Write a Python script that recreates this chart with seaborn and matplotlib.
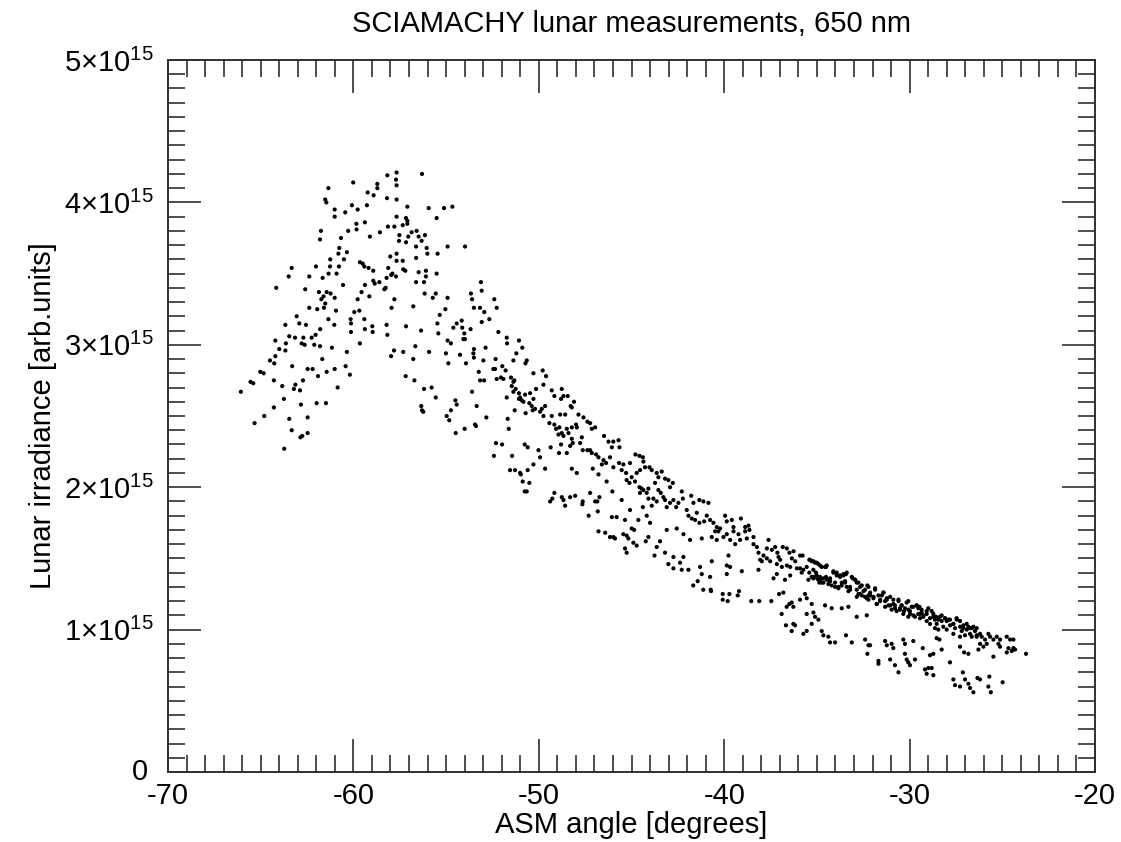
import numpy as np
import pandas as pd
import matplotlib
matplotlib.use("Agg")
import matplotlib.pyplot as plt
import matplotlib.transforms as mtrans
import seaborn as sns
from matplotlib.ticker import MultipleLocator, FixedLocator

# ---------------- data (ASM angle in degrees, irradiance in units of 1e15) ----------------
peak_angle = [
    -57.67, -57.70, -57.67, -58.17, -56.30, -58.71, -58.71, -60.01, -61.35, -59.23,
    -58.91, -58.19, -57.67, -61.52, -61.46, -60.08, -59.27, -59.77, -61.01, -61.01,
    -60.44, -57.09, -55.94, -55.11, -54.66, -55.51, -57.67, -57.16, -57.09, -57.09,
    -59.84, -59.83, -59.38, -58.14, -57.79, -57.34, -61.75, -61.80, -60.28, -58.57,
    -59.11, -60.67, -56.86, -56.59, -56.48, -56.32, -56.14, -57.04, -57.16, -57.52,
    -57.54, -54.92, -53.98, -60.76, -60.81, -60.35, -61.25, -60.51, -56.62, -56.62,
    -56.05, -56.01, -55.46, -57.67, -58.01, -57.67, -57.34, -63.33, -63.49, -62.02,
    -61.26, -60.78, -60.91, -61.34, -61.66, -62.38, -59.65, -59.50, -59.41, -59.18,
    -58.93, -58.12, -57.90, -57.96, -57.70, -57.31, -57.20, -56.48, -56.09, -56.09,
    -55.51, -56.62, -56.19, -58.93, -58.85, -58.60, -58.21, -58.33, -58.26, -59.38,
    -60.56, -64.16, -62.60, -61.86, -61.44, -61.23, -61.01, -61.61, -61.73, -61.52,
    -61.59, -61.95, -62.38, -60.94, -59.77, -59.56, -59.14, -57.79, -57.94, -56.77,
    -56.16, -55.72, -55.56, -54.92, -55.04, -55.34, -55.47, -55.42, -53.12, -53.08,
    -53.66, -53.60, -53.50, -53.17, -52.94, -53.08, -52.67, -52.40, -52.27, -52.18,
    -51.73, -51.71, -51.07, -51.21, -51.37, -59.95, -59.68, -60.15, -60.13, -60.13,
    -59.41, -59.38, -58.98, -58.96, -58.21, -58.17, -59.65, -61.03, -61.35, -63.06,
    -62.92, -62.56, -63.67, -61.79, -62.04, -62.25, -63.46, -63.15, -62.70, -62.79,
    -62.63, -63.64, -63.67, -64.21, -64.00, -64.21, -64.50, -64.27, -62.11, -61.80,
    -61.16, -60.35, -60.42, -60.19, -57.81, -57.97, -57.31, -56.77, -56.66, -57.16,
    -56.35, -55.92, -54.61, -54.43, -54.16, -54.13, -54.02, -53.98, -54.07, -53.68,
    -54.92, -54.74, -55.01, -54.88, -54.25, -53.93, -53.50, -53.53, -53.50, -52.99,
    -52.87, -52.33, -53.24, -53.17, -52.95, -52.45, -52.36, -52.27, -52.04, -51.91,
    -51.97, -51.79, -51.50, -51.37, -51.46, -51.25, -51.37, -51.73, -51.32, -51.07,
    -51.07, -51.68, -51.30, -63.30, -62.47, -62.20, -61.68, -61.44, -61.01, -61.91,
    -62.72, -64.29, -63.84, -63.13, -63.21, -62.88, -63.75, -64.29, -64.81, -65.33,
    -65.02, -64.84, -65.55, -65.40, -66.07, -63.46, -63.33, -62.83, -62.47, -62.86,
    -62.76, -62.47, -61.98, -61.48, -60.85, -63.73, -57.18, -56.71, -56.19, -55.78,
    -55.56, -56.34, -56.30, -56.23, -54.50, -54.43, -54.74, -54.97, -54.83, -54.48,
    -54.00, -53.44, -53.39, -53.60, -53.35, -52.83, -52.31, -51.98, -52.42, -51.44,
    -51.62,
]
peak_irr = [
    4.21, 4.16, 4.12, 4.19, 4.20, 4.13, 4.10, 4.14, 4.10, 4.07,
    4.05, 4.03, 4.02, 4.02, 4.00, 3.98, 3.98, 3.95, 3.95, 3.90,
    3.93, 3.97, 3.96, 3.96, 3.97, 3.89, 3.90, 3.89, 3.87, 3.85,
    3.85, 3.81, 3.86, 3.83, 3.83, 3.84, 3.80, 3.74, 3.80, 3.79,
    3.76, 3.75, 3.79, 3.80, 3.76, 3.73, 3.77, 3.76, 3.72, 3.77,
    3.73, 3.69, 3.69, 3.68, 3.64, 3.65, 3.60, 3.60, 3.69, 3.61,
    3.68, 3.64, 3.64, 3.64, 3.62, 3.59, 3.59, 3.54, 3.48, 3.55,
    3.55, 3.55, 3.50, 3.50, 3.47, 3.48, 3.58, 3.57, 3.55, 3.54,
    3.52, 3.54, 3.50, 3.49, 3.48, 3.53, 3.52, 3.51, 3.52, 3.48,
    3.50, 3.44, 3.44, 3.45, 3.43, 3.44, 3.47, 3.39, 3.40, 3.42,
    3.42, 3.40, 3.39, 3.37, 3.37, 3.36, 3.33, 3.34, 3.32, 3.29,
    3.26, 3.25, 3.26, 3.24, 3.32, 3.37, 3.34, 3.32, 3.26, 3.27,
    3.36, 3.33, 3.36, 3.33, 3.25, 3.21, 3.15, 3.08, 3.44, 3.38,
    3.36, 3.32, 3.26, 3.26, 3.23, 3.16, 3.18, 3.32, 3.26, 3.09,
    3.05, 3.01, 3.03, 2.94, 2.89, 3.23, 3.24, 3.18, 3.15, 3.09,
    3.18, 3.11, 3.13, 3.09, 3.14, 3.07, 3.01, 3.14, 3.18, 3.20,
    3.15, 3.14, 3.14, 3.11, 3.07, 3.05, 3.06, 3.05, 3.05, 3.01,
    3.00, 3.01, 2.96, 3.03, 2.97, 2.92, 2.89, 2.87, 3.00, 2.99,
    2.98, 2.95, 2.85, 2.79, 2.96, 2.92, 2.95, 2.90, 2.99, 3.13,
    3.10, 2.95, 3.12, 3.15, 3.17, 3.12, 3.08, 3.04, 3.04, 3.11,
    3.03, 3.01, 2.94, 2.87, 2.93, 2.87, 2.97, 2.94, 2.91, 2.89,
    2.98, 2.90, 2.81, 2.75, 2.75, 2.83, 2.83, 2.76, 2.77, 2.76,
    2.85, 2.82, 2.77, 2.74, 2.71, 2.69, 2.67, 2.63, 2.75, 2.66,
    2.62, 2.48, 2.54, 2.85, 2.83, 2.83, 2.90, 2.81, 2.83, 2.78,
    2.75, 2.75, 2.71, 2.72, 2.69, 2.68, 2.62, 2.56, 2.50, 2.45,
    2.81, 2.80, 2.74, 2.73, 2.67, 2.48, 2.40, 2.58, 2.49, 2.35,
    2.36, 2.38, 2.59, 2.59, 2.70, 2.27, 2.78, 2.75, 2.69, 2.70,
    2.63, 2.57, 2.54, 2.53, 2.61, 2.58, 2.54, 2.50, 2.47, 2.38,
    2.41, 2.44, 2.43, 2.67, 2.57, 2.49, 2.31, 2.30, 2.22, 2.22,
    2.41,
]

mid_angle = [
    -50.89, -50.65, -50.72, -51.01, -50.92, -50.83, -50.74, -50.47, -50.29, -50.15,
    -50.29, -49.79, -49.61, -49.75, -50.51, -50.38, -50.20, -50.33, -50.71, -49.93,
    -49.75, -49.66, -49.84, -49.30, -49.16, -48.76, -48.67, -48.80, -48.44, -48.28,
    -48.10, -48.22, -50.76, -50.60, -50.02, -49.93, -50.29, -51.55, -51.28, -51.01,
    -50.97, -50.87, -50.51, -50.60, -50.76, -50.65, -49.66, -49.36, -49.16, -49.27,
    -49.39, -48.76, -48.67, -48.31, -48.04, -48.58, -47.63, -47.65, -46.84, -46.82,
    -47.31, -49.30, -49.43, -49.16, -49.07, -48.85, -48.58, -48.89, -48.76, -48.94,
    -48.67, -48.49, -48.40, -48.22, -48.17, -48.31, -48.22, -47.99, -47.95, -47.86,
    -47.59, -47.38, -47.23, -46.96, -47.14, -47.68, -47.77, -47.38, -47.23, -47.14,
    -46.91, -46.78, -46.51, -46.37, -46.60, -46.16, -45.98, -46.48, -46.24, -45.98,
    -45.70, -45.65, -46.06, -47.09, -48.22, -48.91, -48.80, -48.49, -45.67, -45.44,
    -45.53, -45.29, -45.08, -44.79, -44.57, -44.39, -44.36, -44.27, -44.54, -44.72,
    -44.99, -45.26, -45.11, -44.81, -44.57, -44.45, -44.36, -44.09, -44.18, -44.54,
    -44.03, -43.91, -43.64, -43.55, -43.37, -43.19, -43.01, -42.77, -42.92, -43.73,
    -43.55, -43.42, -43.28, -43.19, -43.64, -43.82, -44.09, -43.91, -43.10, -42.92,
    -42.74, -42.59, -42.47, -42.23, -42.29, -41.78, -41.66, -42.02, -41.93, -41.75,
    -41.48, -41.34, -41.12, -40.85, -40.94, -40.76, -41.08, -41.34, -41.57, -40.58,
    -40.40, -40.22, -40.49, -40.31, -39.95, -39.86, -39.59, -39.50, -39.10, -38.87,
    -38.69, -38.64, -38.87, -39.23, -39.50, -39.86, -40.04, -39.68, -39.41, -39.14,
    -38.78, -38.42, -38.42, -38.24, -38.15, -38.06, -37.97, -37.61, -37.70, -37.43,
    -37.25, -37.13, -37.07, -36.98, -36.84, -36.62, -36.48, -36.35, -36.26, -36.17,
    -36.08, -36.44, -36.62, -36.89, -37.16, -37.52, -37.70, -37.88, -40.40, -40.67,
    -41.21, -41.84, -42.20, -42.56, -43.10, -43.46, -44.09, -43.64, -43.19, -42.74,
    -42.20, -43.01, -42.74, -42.38, -42.29, -41.93, -41.30, -41.21, -40.76, -40.67,
    -39.77, -39.86, -39.68, -39.86, -39.05, -38.15, -37.34, -37.16, -36.44, -45.80,
    -45.98, -45.89, -45.44, -45.26, -45.17, -45.35, -45.26, -44.99, -44.86, -44.90,
    -44.72, -44.63, -44.18, -44.39, -45.08, -45.35, -46.06, -46.78, -46.42, -46.16,
    -46.73, -47.23, -46.96, -47.63, -47.95, -46.78, -46.03, -45.53, -46.34, -43.76,
    -44.23, -44.00,
    -41.67, -41.43, -41.13, -40.73, -40.71, -40.08, -40.08, -39.81, -39.72, -39.20,
    -39.27, -38.54, -38.11, -37.46, -37.04,
]
mid_irr = [
    2.98, 2.89, 2.87, 2.63, 2.61, 2.60, 2.65, 2.66, 2.62, 2.69,
    2.80, 2.82, 2.78, 2.72, 2.59, 2.57, 2.55, 2.54, 2.52, 2.53,
    2.50, 2.57, 2.55, 2.68, 2.64, 2.69, 2.64, 2.62, 2.64, 2.57,
    2.60, 2.56, 2.30, 2.28, 2.26, 2.21, 2.16, 2.12, 2.12, 2.10,
    2.09, 2.04, 2.03, 2.12, 1.97, 1.97, 2.13, 2.28, 1.96, 1.92,
    1.90, 1.93, 1.91, 1.93, 1.94, 1.87, 1.90, 1.88, 1.90, 1.83,
    1.80, 2.50, 2.45, 2.44, 2.41, 2.51, 2.51, 2.42, 2.38, 2.37,
    2.36, 2.41, 2.38, 2.34, 2.31, 2.29, 2.42, 2.44, 2.42, 2.51,
    2.49, 2.46, 2.45, 2.42, 2.41, 2.35, 2.31, 2.26, 2.26, 2.24,
    2.23, 2.21, 2.19, 2.17, 2.16, 2.21, 2.14, 2.36, 2.32, 2.32,
    2.33, 2.28, 2.28, 2.13, 2.13, 2.24, 2.30, 2.24, 2.17, 2.16,
    2.12, 2.10, 2.17, 2.23, 2.22, 2.21, 2.18, 2.14, 2.12, 2.10,
    2.07, 2.05, 2.03, 2.04, 2.00, 1.99, 1.98, 1.99, 1.96, 1.96,
    2.14, 2.12, 2.10, 2.07, 2.11, 2.06, 2.05, 2.03, 2.00, 2.03,
    1.98, 1.96, 1.93, 1.91, 1.90, 1.92, 1.92, 1.87, 1.86, 1.89,
    1.91, 1.86, 1.89, 1.92, 1.97, 1.94, 1.89, 1.84, 1.80, 1.78,
    1.82, 1.91, 1.90, 1.89, 1.80, 1.77, 1.76, 1.75, 1.77, 1.75,
    1.72, 1.71, 1.69, 1.69, 1.80, 1.76, 1.77, 1.72, 1.78, 1.72,
    1.73, 1.70, 1.69, 1.67, 1.69, 1.67, 1.65, 1.63, 1.60, 1.63,
    1.64, 1.65, 1.60, 1.58, 1.54, 1.49, 1.48, 1.63, 1.57, 1.56,
    1.58, 1.54, 1.51, 1.49, 1.58, 1.57, 1.54, 1.50, 1.55, 1.48,
    1.43, 1.44, 1.45, 1.44, 1.46, 1.48, 1.50, 1.52, 1.63, 1.65,
    1.64, 1.63, 1.67, 1.71, 1.70, 1.62, 1.65, 1.58, 1.54, 1.51,
    1.51, 1.46, 1.43, 1.47, 1.42, 1.42, 1.44, 1.39, 1.37, 1.48,
    1.52, 1.45, 1.44, 1.39, 1.41, 1.42, 1.36, 1.39, 1.38, 1.79,
    1.65, 1.64, 1.67, 1.66, 1.64, 1.57, 1.54, 1.71, 1.70, 1.61,
    1.59, 1.77, 1.80, 1.86, 1.84, 1.77, 1.79, 1.69, 1.68, 1.65,
    1.93, 1.96, 1.90, 2.26, 2.10, 2.09, 1.97, 1.91, 2.04, 1.52,
    1.62, 1.75,
    1.31, 1.34, 1.28, 1.28, 1.27, 1.25, 1.21, 1.20, 1.25, 1.27,
    1.24, 1.20, 1.20, 1.20, 1.25,
]

band_angle = [
    -35.91, -35.77, -35.91, -35.73, -35.82, -35.55, -35.37, -35.19, -35.01, -34.83,
    -34.56, -34.47, -35.41, -35.28, -35.46, -35.19, -35.01, -34.83, -34.92, -34.74,
    -34.65, -34.47, -34.29, -34.38, -34.11, -33.93, -33.75, -33.57, -33.43, -34.02,
    -33.84, -33.66, -33.48, -33.39, -33.21, -33.07, -32.94, -32.85, -32.67, -32.76,
    -32.58, -32.40, -32.22, -32.22, -32.31, -32.13, -31.95, -31.86, -31.68, -31.59,
    -31.77, -31.41, -31.23, -31.32, -31.05, -31.14, -30.88, -30.79, -30.97, -30.60,
    -30.52, -30.70, -30.43, -30.30, -30.16, -30.07, -29.98, -29.80, -29.62, -29.53,
    -29.44, -29.35, -29.26, -29.08, -28.99, -28.81, -28.72, -28.63, -28.54, -28.36,
    -28.27, -28.18, -28.09, -27.91, -27.82, -27.64, -27.55, -27.46, -27.28, -27.19,
    -27.10, -26.92, -26.83, -26.74, -26.65, -26.47, -26.38, -26.20, -26.11, -25.93,
    -25.75, -25.66, -25.48, -25.30, -25.21, -25.12, -24.76, -24.58, -24.67, -24.49,
    -24.31, -24.40, -23.72, -25.84, -26.20, -26.65, -27.01, -27.28, -27.64, -28.00,
    -28.45, -28.63, -28.90, -29.08, -29.44, -29.80, -30.07, -30.34,
]
band_irr = [
    1.52, 1.52, 1.43, 1.42, 1.40, 1.44, 1.49, 1.48, 1.47, 1.45,
    1.44, 1.45, 1.40, 1.37, 1.35, 1.36, 1.38, 1.37, 1.35, 1.33,
    1.36, 1.35, 1.36, 1.32, 1.41, 1.40, 1.37, 1.38, 1.39, 1.33,
    1.30, 1.31, 1.34, 1.30, 1.28, 1.36, 1.35, 1.33, 1.30, 1.25,
    1.24, 1.28, 1.30, 1.24, 1.22, 1.26, 1.23, 1.29, 1.24, 1.21,
    1.18, 1.26, 1.22, 1.20, 1.23, 1.17, 1.21, 1.17, 1.14, 1.20,
    1.15, 1.13, 1.17, 1.13, 1.19, 1.14, 1.11, 1.16, 1.17, 1.15,
    1.11, 1.12, 1.09, 1.11, 1.15, 1.13, 1.09, 1.07, 1.04, 1.09,
    1.06, 1.02, 1.08, 1.07, 1.03, 1.04, 1.01, 1.07, 1.02, 0.99,
    1.01, 1.00, 1.02, 0.97, 1.01, 0.99, 0.96, 0.97, 0.95, 0.93,
    0.97, 0.95, 0.93, 0.95, 0.90, 0.93, 0.95, 0.93, 0.87, 0.85,
    0.86, 0.93, 0.83, 0.90, 0.90, 0.95, 0.96, 0.95, 0.97, 1.00,
    1.00, 1.01, 1.04, 1.06, 1.08, 1.10, 1.09, 1.11,
]

# additional points read from a closer look at the dense upper band (-35.5 .. -26.4 deg)
band2_angle = [
    -35.41, -35.28, -35.10, -34.92, -34.74, -34.51, -35.19, -35.05, -35.19, -34.98,
    -34.83, -34.65, -34.87, -34.51, -34.38, -34.29, -34.11, -33.93, -33.75, -33.57,
    -33.39, -34.20, -34.02, -33.84, -33.66, -33.48, -33.30, -33.12, -32.94, -32.76,
    -32.58, -33.21, -32.85, -32.67, -32.85, -32.49, -32.40, -32.28, -32.22, -32.13,
    -31.95, -31.86, -31.77, -31.59, -31.50, -31.41, -31.23, -31.05, -31.32, -30.88,
    -30.79, -30.60, -30.52, -30.43, -30.25, -30.07, -29.98, -29.89, -29.62, -29.47,
    -29.35, -29.53, -29.71, -29.26, -29.08, -28.90, -28.72, -28.57, -28.45, -28.27,
    -28.09, -28.00, -27.82, -27.64, -27.46, -27.28, -27.10, -26.92, -26.74, -26.56,
    -26.38,
]
band2_irr = [
    1.49, 1.48, 1.47, 1.46, 1.44, 1.44, 1.42, 1.40, 1.37, 1.36,
    1.35, 1.33, 1.33, 1.37, 1.35, 1.34, 1.40, 1.38, 1.38, 1.39,
    1.40, 1.31, 1.30, 1.29, 1.33, 1.33, 1.27, 1.37, 1.35, 1.33,
    1.31, 1.30, 1.28, 1.25, 1.23, 1.27, 1.23, 1.31, 1.21, 1.24,
    1.22, 1.28, 1.18, 1.20, 1.24, 1.26, 1.21, 1.17, 1.16, 1.18,
    1.15, 1.21, 1.14, 1.17, 1.15, 1.20, 1.13, 1.16, 1.17, 1.16,
    1.14, 1.11, 1.09, 1.10, 1.13, 1.08, 1.11, 1.09, 1.07, 1.10,
    1.08, 1.06, 1.07, 1.04, 1.08, 1.06, 1.03, 1.04, 1.01, 1.02,
    1.01,
]

low_angle = [
    -36.72, -36.81, -36.90, -36.63, -36.49, -36.36, -36.27, -35.91, -35.64, -35.55,
    -35.28, -35.55, -35.19, -35.10, -34.92, -35.28, -34.56, -34.20, -33.66, -33.30,
    -32.85, -32.31, -36.67, -36.27, -36.18, -36.36, -35.73, -35.55, -34.74, -34.65,
    -34.38, -34.29, -34.02, -33.43, -33.12, -32.40, -32.22, -32.13, -32.28, -31.68,
    -31.68, -31.32, -31.23, -30.97, -30.88, -31.05, -30.79, -30.60, -30.34, -30.25,
    -30.25, -30.16, -30.07, -29.98, -29.80, -29.71, -29.17, -29.08, -28.99, -28.72,
    -28.81, -29.29, -28.90, -28.72, -28.27, -28.54, -28.39, -27.82, -27.64, -27.55,
    -27.28, -27.13, -27.01, -26.83, -26.74, -26.56, -26.34, -26.20, -25.70, -25.75,
    -25.62, -24.98, -27.28, -27.06, -26.83, -26.29, -25.48, -24.76, -24.40, -26.38,
    -26.02, -25.12,
]
low_irr = [
    1.35, 1.26, 1.11, 1.16, 1.18, 1.19, 1.16, 1.21, 1.25, 1.22,
    1.18, 1.11, 1.12, 1.09, 1.07, 1.04, 1.17, 1.15, 1.15, 1.16,
    1.09, 1.10, 1.03, 1.04, 1.03, 0.99, 0.97, 0.99, 0.99, 0.96,
    0.95, 0.91, 0.91, 0.96, 0.91, 0.93, 0.89, 0.89, 0.83, 0.78,
    0.76, 0.92, 0.89, 0.90, 0.87, 0.79, 0.75, 0.70, 0.93, 0.90,
    0.83, 0.79, 0.77, 0.75, 0.92, 0.79, 0.72, 0.69, 0.73, 0.68,
    0.73, 0.87, 0.82, 0.83, 0.86, 0.94, 0.93, 0.77, 0.65, 0.61,
    0.60, 0.70, 0.65, 0.62, 0.59, 0.56, 0.66, 0.65, 0.67, 0.60,
    0.56, 0.63, 0.88, 0.84, 0.83, 0.86, 0.81, 0.84, 0.87, 0.95,
    0.88, 0.88,
]

x_ticks = [-70, -60, -50, -40, -30, -20]
x_tick_labels = ["-70", "-60", "-50", "-40", "-30", "-20"]
y_ticks = [0, 1e15, 2e15, 3e15, 4e15, 5e15]
y_tick_labels = ["0", "1×10$^{15}$", "2×10$^{15}$", "3×10$^{15}$", "4×10$^{15}$", "5×10$^{15}$"]

title = "SCIAMACHY lunar measurements, 650 nm"
x_label = "ASM angle [degrees]"
y_label = "Lunar irradiance [arb.units]"

# ---------------- build frame ----------------
angle = np.concatenate([peak_angle, mid_angle, band_angle, band2_angle, low_angle])
irr = np.concatenate([peak_irr, mid_irr, band_irr, band2_irr, low_irr]) * 1e15
df = pd.DataFrame({"angle": angle, "irradiance": irr})

# ---------------- style ----------------
sns.set_style("ticks")
plt.rcParams["font.family"] = ["Liberation Sans", "DejaVu Sans"]
plt.rcParams["mathtext.fontset"] = "custom"
plt.rcParams["mathtext.rm"] = "Liberation Sans"
plt.rcParams["mathtext.default"] = "regular"
plt.rcParams["text.color"] = "black"
plt.rcParams["axes.labelcolor"] = "black"

W, H = 1121, 842
fig = plt.figure(figsize=(W / 100, H / 100), dpi=100)
ax = fig.add_axes([168 / W, 1 - 772 / H, (1095 - 168) / W, (772 - 60) / H])

sns.scatterplot(data=df, x="angle", y="irradiance", ax=ax, s=9,
                color="black", edgecolor="none", linewidth=0, legend=False)

ax.set_xlim(-70, -20)
ax.set_ylim(0, 5e15)
ax.xaxis.set_major_locator(FixedLocator(x_ticks))
ax.set_xticklabels(x_tick_labels)
ax.xaxis.set_minor_locator(MultipleLocator(1))
ax.yaxis.set_major_locator(FixedLocator(y_ticks))
ax.set_yticklabels(y_tick_labels)
ax.yaxis.set_minor_locator(MultipleLocator(1e14))

spine_color = "#303030"
for sp in ax.spines.values():
    sp.set_visible(True)
    sp.set_color(spine_color)
    sp.set_linewidth(1.4)

ax.tick_params(which="both", direction="in", top=True, right=True,
               color=spine_color, width=1.2, labelsize=21, labelcolor="black")
ax.tick_params(which="major", length=23.8)
ax.tick_params(which="minor", length=12.2)
ax.tick_params(axis="x", which="major", pad=7)
ax.tick_params(axis="y", which="major", pad=10)

ax.set_xlabel(x_label, fontsize=21, labelpad=1, color="black")
ax.set_ylabel(y_label, fontsize=21, labelpad=5, color="black")
ax.set_title(title, fontsize=21, pad=20, color="black")

# nudge the "0" label slightly so it does not collide with "-70"
zero_label = ax.yaxis.get_major_ticks()[0].label1
zero_label.set_transform(zero_label.get_transform() +
                         mtrans.ScaledTranslation(-6 / 100, 3 / 100, fig.dpi_scale_trans))

fig.savefig("out.png", dpi=100)
